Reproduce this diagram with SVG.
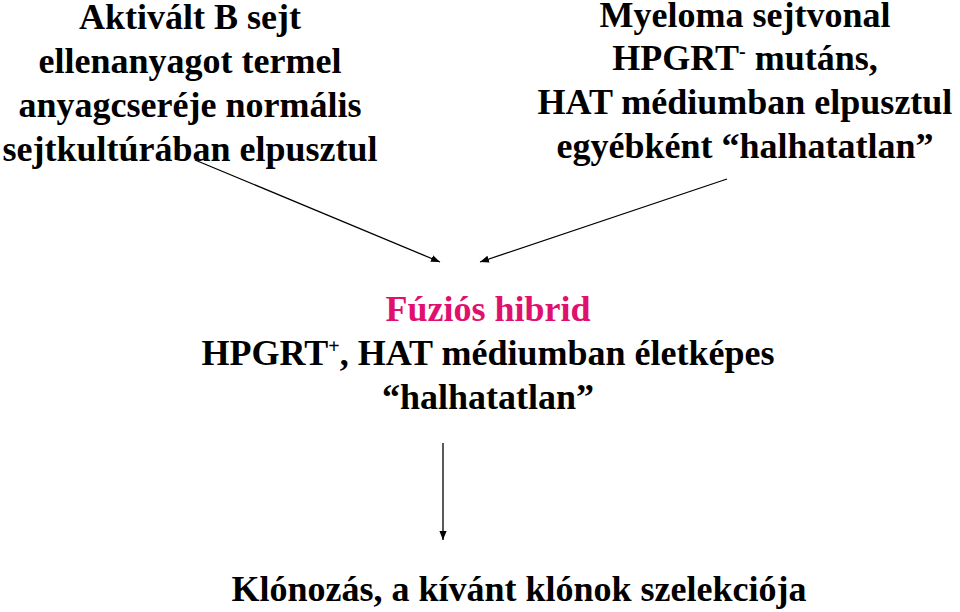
<svg xmlns="http://www.w3.org/2000/svg" width="960" height="612" viewBox="0 0 960 612">
<defs>
<style>
text{font-family:"Liberation Serif","Times New Roman",serif;font-weight:bold;font-size:36px;fill:#000;text-anchor:middle}
.pink{fill:#E0106E}
.c line{stroke:#000;stroke-width:1.3}
</style>
<marker id="ah" viewBox="0 0 10 10" refX="10" refY="5" markerWidth="9" markerHeight="9" markerUnits="userSpaceOnUse" orient="auto"><path d="M0,1 L10,5 L0,9 Z" fill="#000"/></marker>
</defs>
<rect width="960" height="612" fill="#fff"/>
<g id="bsejt">
<text x="190" y="29">Aktivált B sejt</text>
<text x="190" y="73">ellenanyagot termel</text>
<text x="190" y="117">anyagcseréje normális</text>
<text x="190" y="161">sejtkultúrában elpusztul</text>
</g>
<g id="myeloma">
<text x="745" y="27">Myeloma sejtvonal</text>
<text x="745" y="70">HPGRT<tspan dy="-12" font-size="20">-</tspan><tspan dy="12"> mutáns,</tspan></text>
<text x="745" y="114">HAT médiumban elpusztul</text>
<text x="745" y="158">egyébként “halhatatlan”</text>
</g>
<g id="hibrid">
<text class="pink" x="488" y="321">Fúziós hibrid</text>
<text x="488" y="365">HPGRT<tspan dy="-12" font-size="20">+</tspan><tspan dy="12">, HAT médiumban életképes</tspan></text>
<text x="488" y="409">“halhatatlan”</text>
</g>
<g id="klonozas">
<text x="519" y="601">Klónozás, a kívánt klónok szelekciója</text>
</g>
<g class="c" id="connectors">
<line x1="195" y1="160" x2="440" y2="262" marker-end="url(#ah)"/>
<line x1="727" y1="179" x2="480" y2="262" marker-end="url(#ah)"/>
<line x1="443" y1="443" x2="443" y2="540" marker-end="url(#ah)"/>
</g>
</svg>
